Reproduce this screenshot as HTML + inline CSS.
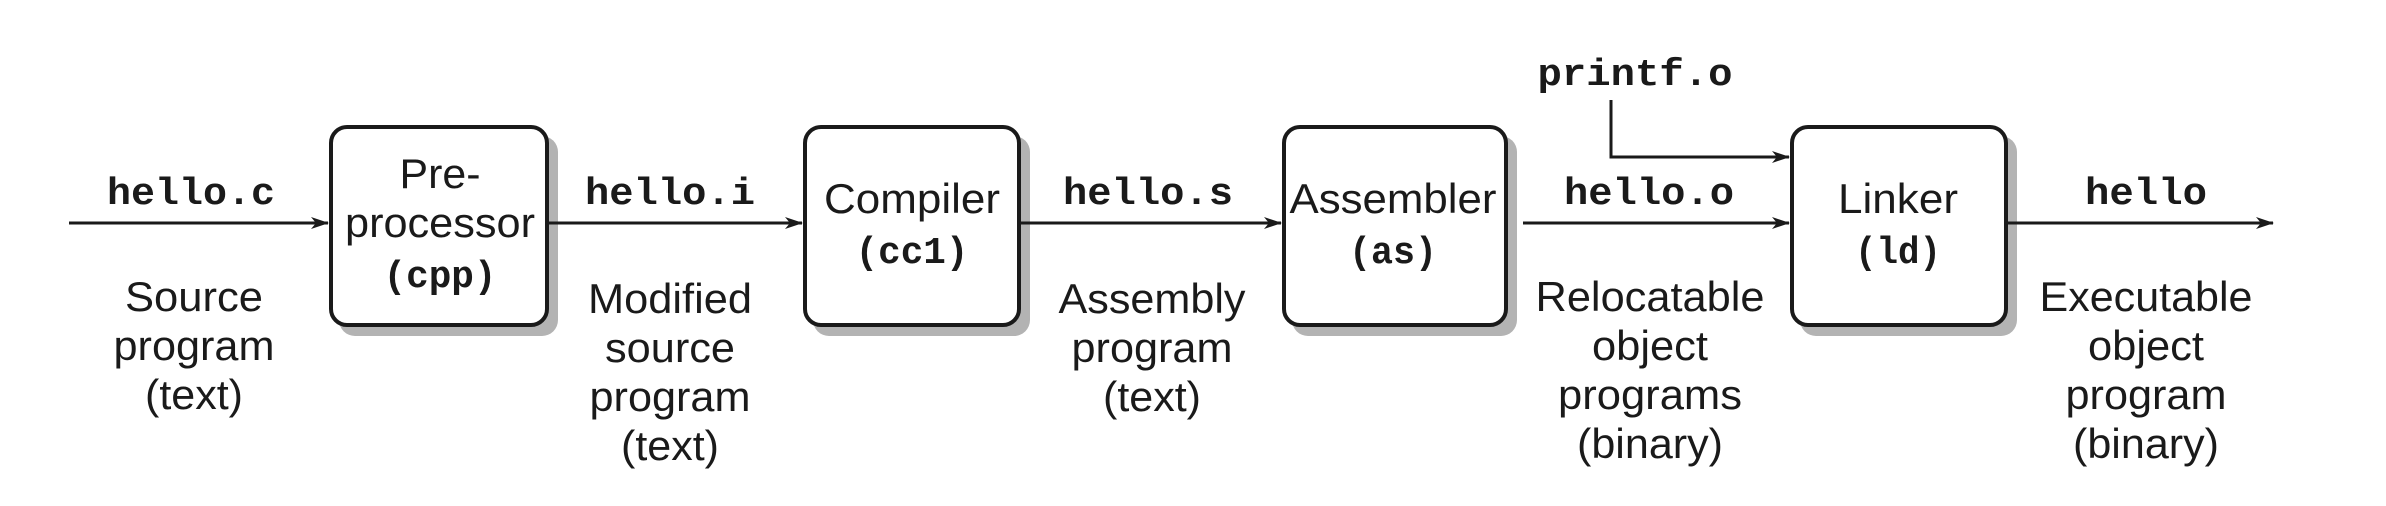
<!DOCTYPE html>
<html><head><meta charset="utf-8"><style>html,body{margin:0;padding:0;background:#fff;}svg{display:block}</style></head>
<body>
<svg width="2386" height="506" viewBox="0 0 2386 506" xmlns="http://www.w3.org/2000/svg">
<defs>
<marker id="a" markerWidth="18" markerHeight="12" refX="17" refY="6" orient="auto" markerUnits="userSpaceOnUse">
<path d="M0,0 L18,6 L0,12 L5,6 Z" fill="#1a1a1a"/>
</marker>
</defs>
<g fill="#b3b3b3">
<rect x="339" y="136" width="219" height="200" rx="16"/>
<rect x="813" y="136" width="217" height="200" rx="16"/>
<rect x="1292" y="136" width="225" height="200" rx="16"/>
<rect x="1800" y="136" width="217" height="200" rx="16"/>
</g>
<g fill="#fff" stroke="#1a1a1a" stroke-width="4">
<rect x="331" y="127" width="216" height="198" rx="16"/>
<rect x="805" y="127" width="214" height="198" rx="16"/>
<rect x="1284" y="127" width="222" height="198" rx="16"/>
<rect x="1792" y="127" width="214" height="198" rx="16"/>
</g>
<g stroke="#1a1a1a" stroke-width="3" fill="none" marker-end="url(#a)">
<line x1="69" y1="223" x2="328" y2="223"/>
<line x1="549" y1="223" x2="802" y2="223"/>
<line x1="1021" y1="223" x2="1281" y2="223"/>
<line x1="1523" y1="223" x2="1789" y2="223"/>
<line x1="2008" y1="223" x2="2273" y2="223"/>
<polyline points="1611,100 1611,157 1789,157"/>
</g>
<g font-family="'Liberation Mono', monospace" font-size="38" font-weight="bold" fill="#1a1a1a" text-anchor="middle">
<text x="191" y="204" textLength="168" lengthAdjust="spacingAndGlyphs">hello.c</text>
<text x="670" y="204" textLength="170" lengthAdjust="spacingAndGlyphs">hello.i</text>
<text x="1148" y="204" textLength="170" lengthAdjust="spacingAndGlyphs">hello.s</text>
<text x="1649" y="204" textLength="170" lengthAdjust="spacingAndGlyphs">hello.o</text>
<text x="2146" y="204" textLength="122" lengthAdjust="spacingAndGlyphs">hello</text>
<text x="1635" y="85" textLength="195" lengthAdjust="spacingAndGlyphs">printf.o</text>
<text x="440" y="287" textLength="113" lengthAdjust="spacingAndGlyphs">(cpp)</text>
<text x="912" y="263" textLength="113" lengthAdjust="spacingAndGlyphs">(cc1)</text>
<text x="1393" y="263" textLength="88" lengthAdjust="spacingAndGlyphs">(as)</text>
<text x="1898" y="263" textLength="86" lengthAdjust="spacingAndGlyphs">(ld)</text>
</g>
<g font-family="'Liberation Sans', sans-serif" font-size="42" fill="#1a1a1a" text-anchor="middle">
<text x="440" y="188" textLength="81" lengthAdjust="spacingAndGlyphs">Pre-</text>
<text x="440" y="237" textLength="190" lengthAdjust="spacingAndGlyphs">processor</text>
<text x="912" y="213" textLength="176" lengthAdjust="spacingAndGlyphs">Compiler</text>
<text x="1393" y="213" textLength="207" lengthAdjust="spacingAndGlyphs">Assembler</text>
<text x="1898" y="213" textLength="120" lengthAdjust="spacingAndGlyphs">Linker</text>

<text x="194" y="311" textLength="138" lengthAdjust="spacingAndGlyphs">Source</text>
<text x="194" y="360" textLength="161" lengthAdjust="spacingAndGlyphs">program</text>
<text x="194" y="409" textLength="98" lengthAdjust="spacingAndGlyphs">(text)</text>

<text x="670" y="313" textLength="164" lengthAdjust="spacingAndGlyphs">Modified</text>
<text x="670" y="362" textLength="130" lengthAdjust="spacingAndGlyphs">source</text>
<text x="670" y="411" textLength="161" lengthAdjust="spacingAndGlyphs">program</text>
<text x="670" y="460" textLength="98" lengthAdjust="spacingAndGlyphs">(text)</text>

<text x="1152" y="313" textLength="187" lengthAdjust="spacingAndGlyphs">Assembly</text>
<text x="1152" y="362" textLength="161" lengthAdjust="spacingAndGlyphs">program</text>
<text x="1152" y="411" textLength="98" lengthAdjust="spacingAndGlyphs">(text)</text>

<text x="1650" y="311" textLength="229" lengthAdjust="spacingAndGlyphs">Relocatable</text>
<text x="1650" y="360" textLength="116" lengthAdjust="spacingAndGlyphs">object</text>
<text x="1650" y="409" textLength="184" lengthAdjust="spacingAndGlyphs">programs</text>
<text x="1650" y="458" textLength="146" lengthAdjust="spacingAndGlyphs">(binary)</text>

<text x="2146" y="311" textLength="213" lengthAdjust="spacingAndGlyphs">Executable</text>
<text x="2146" y="360" textLength="116" lengthAdjust="spacingAndGlyphs">object</text>
<text x="2146" y="409" textLength="161" lengthAdjust="spacingAndGlyphs">program</text>
<text x="2146" y="458" textLength="146" lengthAdjust="spacingAndGlyphs">(binary)</text>
</g>
</svg>
</body></html>
